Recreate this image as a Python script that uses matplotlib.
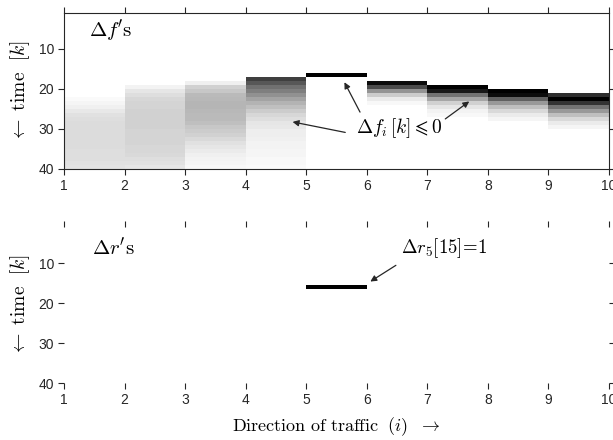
import numpy as np
import matplotlib
matplotlib.use('Agg')
import matplotlib.pyplot as plt

plt.rcParams['mathtext.fontset'] = 'cm'
plt.rcParams['font.family'] = ['Liberation Sans', 'DejaVu Sans']

# directions of traffic (columns) and time steps (rows)
directions = [1, 2, 3, 4, 5, 6, 7, 8, 9]
k_steps = np.arange(1, 40)

# first time step at which each direction shows a change, and the
# darkness (0 = white, 1 = black) of successive rows from that step on
df_onset = [22, 19, 18, 17, 16, 18, 19, 20, 21]
df_levels = [
    [0.02, 0.04, 0.06, 0.09, 0.12, 0.13, 0.14, 0.14, 0.14, 0.14, 0.14, 0.14,
     0.14, 0.13, 0.13, 0.13, 0.12, 0.11],
    [0.05, 0.1, 0.13, 0.16, 0.17, 0.17, 0.18, 0.18, 0.18, 0.18, 0.18, 0.17,
     0.17, 0.17, 0.17, 0.16, 0.16, 0.15, 0.13, 0.12, 0.1],
    [0.06, 0.18, 0.22, 0.27, 0.28, 0.29, 0.29, 0.28, 0.27, 0.27, 0.25, 0.22,
     0.2, 0.18, 0.15, 0.12, 0.1, 0.08, 0.06, 0.05, 0.04, 0.03],
    [0.75, 0.66, 0.56, 0.5, 0.43, 0.36, 0.3, 0.25, 0.2, 0.16, 0.13, 0.1,
     0.09, 0.07, 0.07, 0.06, 0.05, 0.05, 0.04, 0.04, 0.03, 0.03, 0.02],
    [1.0],
    [0.95, 0.7, 0.42, 0.2, 0.08, 0.03],
    [1.0, 0.9, 0.55, 0.35, 0.18, 0.1, 0.05, 0.03],
    [1.0, 0.95, 0.62, 0.4, 0.25, 0.15, 0.08, 0.04],
    [0.82, 1.0, 0.8, 0.55, 0.4, 0.25, 0.15, 0.08, 0.04],
]

# rate changes: only direction 5 at time step 15 (drawn at row 16)
dr_direction = 5
dr_step = 16

df = np.zeros((len(k_steps), len(directions)))
for j, (k0, lev) in enumerate(zip(df_onset, df_levels)):
    for n, v in enumerate(lev):
        df[k0 - 1 + n, j] = v

dr = np.zeros_like(df)
dr[dr_step - 1, dr_direction - 1] = 1.0

x_edges = np.arange(1, 11)
fig = plt.figure(figsize=(6.13, 4.4), dpi=100)
ax1 = fig.add_axes([0.1044, 0.616, 0.889, 0.3545])
ax2 = fig.add_axes([0.1044, 0.1295, 0.889, 0.3545])

ax1.pcolormesh(x_edges, np.arange(1, 41), df, cmap='gray_r', vmin=0, vmax=1,
               shading='flat', antialiased=False)
ax2.pcolormesh(x_edges, np.arange(1, 41) - 0.5, dr, cmap='gray_r', vmin=0,
               vmax=1, shading='flat', antialiased=False)

for ax in (ax1, ax2):
    ax.set_xlim(1, 10)
    ax.set_ylim(40, 1)
    ax.set_xticks(range(1, 11))
    ax.set_yticks([10, 20, 30, 40])
    ax.tick_params(direction='out', length=4, width=0.8, top=True,
                   right=True, labelsize=10, color='#262626',
                   labelcolor='#262626', pad=3)
    ax.set_ylabel(r'$\leftarrow\ \mathrm{time}\ \ [k]$', fontsize=14,
                  labelpad=5)

for s in ax1.spines.values():
    s.set_linewidth(0.8)
    s.set_color('#262626')
for s in ax2.spines.values():
    s.set_visible(False)

ax1.text(1.42, 5.4, r"$\Delta f\mathrm{'s}$", fontsize=15, va='center')
ax2.text(1.46, 6.0, r"$\Delta r\mathrm{'s}$", fontsize=15, va='center')

ax1.text(5.83, 29.8, r'$\Delta f_i\,[k] \leqslant 0$', fontsize=14,
         va='center', ha='left')
arrow = dict(arrowstyle='-|>', color='#262626', lw=0.9, mutation_scale=9)
ax1.annotate('', xy=(4.73, 28.1), xytext=(5.69, 31.0), arrowprops=arrow)
ax1.annotate('', xy=(5.61, 17.7), xytext=(5.91, 26.4), arrowprops=arrow)
ax1.annotate('', xy=(7.73, 22.7), xytext=(7.26, 27.9), arrowprops=arrow)

ax2.text(6.57, 6.3, r'$\Delta r_5[15]\!=\!1$', fontsize=13.5, va='center',
         ha='left')
ax2.annotate('', xy=(6.02, 15.0), xytext=(6.52, 10.2), arrowprops=arrow)

ax2.set_xlabel(r'$\mathrm{Direction\ of\ traffic}\ \ (i)\ \ \rightarrow$',
               fontsize=13, labelpad=6)

fig.savefig('out.png', dpi=100)
